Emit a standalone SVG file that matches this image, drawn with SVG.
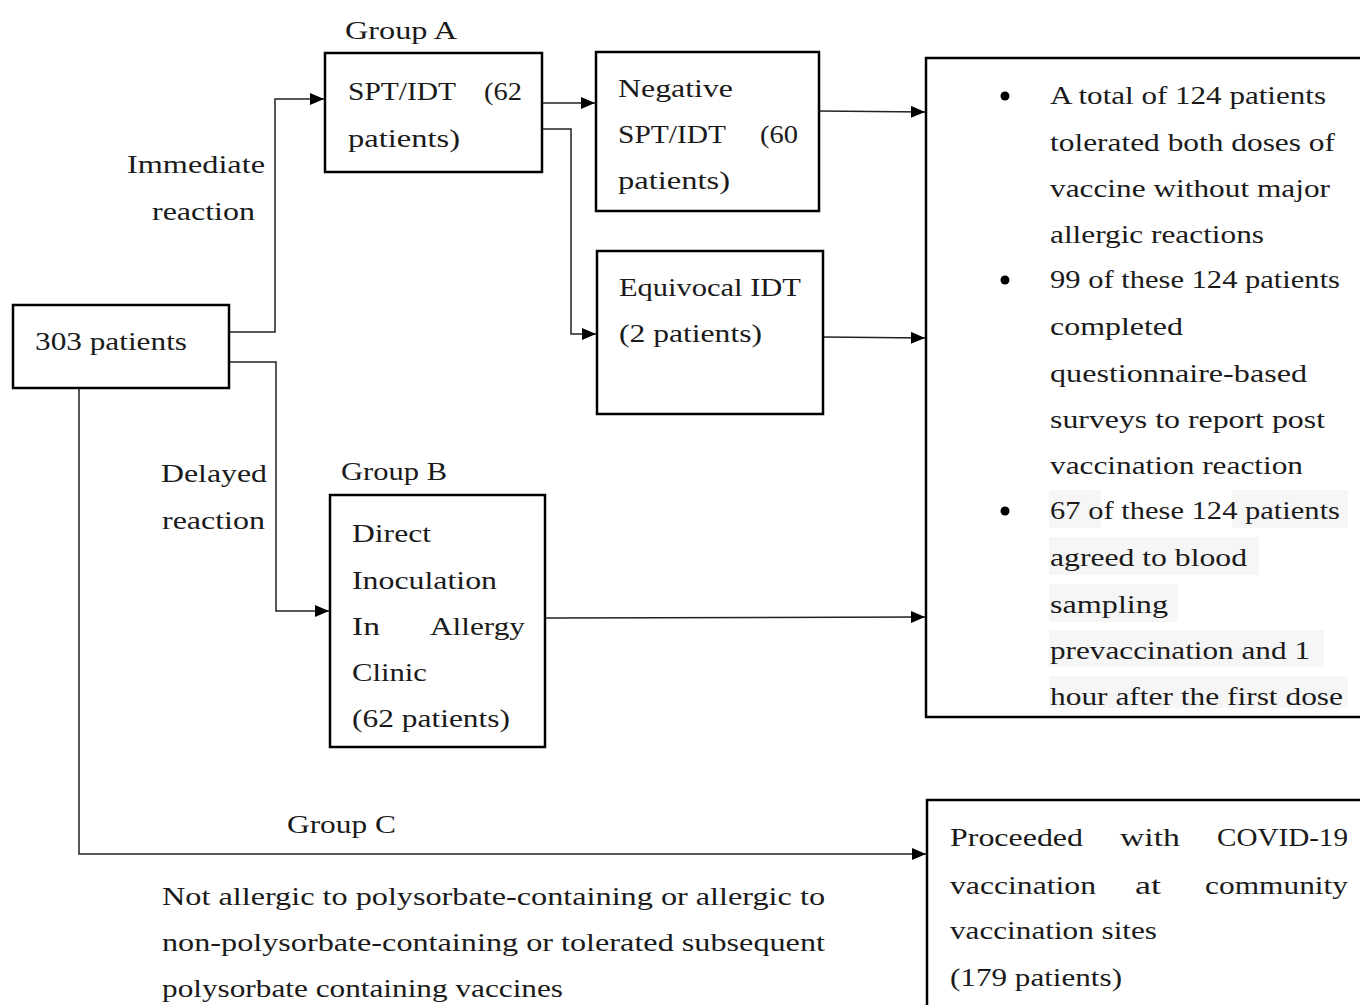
<svg xmlns="http://www.w3.org/2000/svg" width="1360" height="1005" viewBox="0 0 1360 1005">
<defs>
<marker id="arr" viewBox="0 0 14 12" refX="14" refY="6" markerWidth="14" markerHeight="12" markerUnits="userSpaceOnUse" orient="auto">
<path d="M0,0 L14,6 L0,12 Z" fill="#000"/>
</marker>
<style>
text{font-family:"Liberation Serif","DejaVu Serif",serif;font-size:26px;fill:#1a1a1a}
.box{fill:#fff;stroke:#000;stroke-width:2.5}
.con{fill:none;stroke:#222;stroke-width:1.5;marker-end:url(#arr)}
.plain{fill:none;stroke:#222;stroke-width:1.5}
.hl{fill:#f6f6f6}
</style>
</defs>
<rect width="1360" height="1005" fill="#fff"/>

<g id="connectors">
<path class="con" d="M229,332 H275 V99 H324"/>
<path class="con" d="M229,362 H276 V611 H329"/>
<path class="con" d="M79,388 V854 H926"/>
<path class="con" d="M542,103 H595"/>
<path class="con" d="M542,129 H571 V334 H596"/>
<path class="con" d="M819,111 L925,112"/>
<path class="con" d="M823,337 L925,338"/>
<path class="con" d="M545,618 L925,617"/>
</g>

<g id="labels">
<text x="345" y="39" textLength="112" lengthAdjust="spacingAndGlyphs">Group A</text>
<text x="127" y="173" textLength="138" lengthAdjust="spacingAndGlyphs">Immediate</text>
<text x="152" y="220" textLength="103" lengthAdjust="spacingAndGlyphs">reaction</text>
<text x="341" y="480" textLength="106" lengthAdjust="spacingAndGlyphs">Group B</text>
<text x="161" y="482" textLength="106" lengthAdjust="spacingAndGlyphs">Delayed</text>
<text x="162" y="529" textLength="103" lengthAdjust="spacingAndGlyphs">reaction</text>
<text x="287" y="833" textLength="109" lengthAdjust="spacingAndGlyphs">Group C</text>
<text x="162" y="905" textLength="663" lengthAdjust="spacingAndGlyphs">Not allergic to polysorbate-containing or allergic to</text>
<text x="162" y="951" textLength="663" lengthAdjust="spacingAndGlyphs">non-polysorbate-containing or tolerated subsequent</text>
<text x="162" y="997" textLength="401" lengthAdjust="spacingAndGlyphs">polysorbate containing vaccines</text>
</g>

<g id="node-303">
<rect class="box" x="13" y="305" width="216" height="83"/>
<text x="35" y="350" textLength="152" lengthAdjust="spacingAndGlyphs">303 patients</text>
</g>

<g id="node-spt">
<rect class="box" x="325" y="53" width="217" height="119"/>
<text x="348" y="100" textLength="108" lengthAdjust="spacingAndGlyphs">SPT/IDT</text>
<text x="484" y="100" textLength="38" lengthAdjust="spacingAndGlyphs">(62</text>
<text x="348" y="147" textLength="112" lengthAdjust="spacingAndGlyphs">patients)</text>
</g>

<g id="node-negative">
<rect class="box" x="596" y="52" width="223" height="159"/>
<text x="618" y="97" textLength="115" lengthAdjust="spacingAndGlyphs">Negative</text>
<text x="618" y="143" textLength="108" lengthAdjust="spacingAndGlyphs">SPT/IDT</text>
<text x="760" y="143" textLength="38" lengthAdjust="spacingAndGlyphs">(60</text>
<text x="618" y="189" textLength="112" lengthAdjust="spacingAndGlyphs">patients)</text>
</g>

<g id="node-equivocal">
<rect class="box" x="597" y="251" width="226" height="163"/>
<text x="619" y="296" textLength="182" lengthAdjust="spacingAndGlyphs">Equivocal IDT</text>
<text x="619" y="342" textLength="143" lengthAdjust="spacingAndGlyphs">(2 patients)</text>
</g>

<g id="node-direct">
<rect class="box" x="330" y="495" width="215" height="252"/>
<text x="352" y="542" textLength="79" lengthAdjust="spacingAndGlyphs">Direct</text>
<text x="352" y="589" textLength="145" lengthAdjust="spacingAndGlyphs">Inoculation</text>
<text x="352" y="635" textLength="28" lengthAdjust="spacingAndGlyphs">In</text>
<text x="430" y="635" textLength="95" lengthAdjust="spacingAndGlyphs">Allergy</text>
<text x="352" y="681" textLength="75" lengthAdjust="spacingAndGlyphs">Clinic</text>
<text x="352" y="727" textLength="158" lengthAdjust="spacingAndGlyphs">(62 patients)</text>
</g>

<g id="node-outcome">
<rect class="box" x="926" y="58" width="450" height="659"/>
<rect class="hl" x="1049" y="490" width="52" height="38"/>
<rect class="hl" x="1232" y="490" width="116" height="38"/>
<rect class="hl" x="1049" y="537" width="210" height="38"/>
<rect class="hl" x="1049" y="584" width="129" height="38"/>
<rect class="hl" x="1049" y="630" width="275" height="37"/>
<rect class="hl" x="1049" y="676" width="299" height="32"/>
<circle cx="1005" cy="96" r="4.5" fill="#000"/>
<circle cx="1005" cy="280" r="4.5" fill="#000"/>
<circle cx="1005" cy="511" r="4.5" fill="#000"/>
<text x="1050" y="104" textLength="276" lengthAdjust="spacingAndGlyphs">A total of 124 patients</text>
<text x="1050" y="151" textLength="285" lengthAdjust="spacingAndGlyphs">tolerated both doses of</text>
<text x="1050" y="197" textLength="280" lengthAdjust="spacingAndGlyphs">vaccine without major</text>
<text x="1050" y="243" textLength="214" lengthAdjust="spacingAndGlyphs">allergic reactions</text>
<text x="1050" y="288" textLength="290" lengthAdjust="spacingAndGlyphs">99 of these 124 patients</text>
<text x="1050" y="335" textLength="133" lengthAdjust="spacingAndGlyphs">completed</text>
<text x="1050" y="382" textLength="257" lengthAdjust="spacingAndGlyphs">questionnaire-based</text>
<text x="1050" y="428" textLength="275" lengthAdjust="spacingAndGlyphs">surveys to report post</text>
<text x="1050" y="474" textLength="253" lengthAdjust="spacingAndGlyphs">vaccination reaction</text>
<text x="1050" y="519" textLength="290" lengthAdjust="spacingAndGlyphs">67 of these 124 patients</text>
<text x="1050" y="566" textLength="197" lengthAdjust="spacingAndGlyphs">agreed to blood</text>
<text x="1050" y="613" textLength="118" lengthAdjust="spacingAndGlyphs">sampling</text>
<text x="1050" y="659" textLength="260" lengthAdjust="spacingAndGlyphs">prevaccination and 1</text>
<text x="1050" y="705" textLength="293" lengthAdjust="spacingAndGlyphs">hour after the first dose</text>
</g>

<g id="node-community">
<rect class="box" x="927" y="800" width="450" height="230"/>
<text x="950" y="846" textLength="133" lengthAdjust="spacingAndGlyphs">Proceeded</text>
<text x="1120" y="846" textLength="60" lengthAdjust="spacingAndGlyphs">with</text>
<text x="1217" y="846" textLength="131" lengthAdjust="spacingAndGlyphs">COVID-19</text>
<text x="950" y="894" textLength="146" lengthAdjust="spacingAndGlyphs">vaccination</text>
<text x="1135" y="894" textLength="26" lengthAdjust="spacingAndGlyphs">at</text>
<text x="1205" y="894" textLength="143" lengthAdjust="spacingAndGlyphs">community</text>
<text x="950" y="939" textLength="207" lengthAdjust="spacingAndGlyphs">vaccination sites</text>
<text x="950" y="986" textLength="172" lengthAdjust="spacingAndGlyphs">(179 patients)</text>
</g>
</svg>
